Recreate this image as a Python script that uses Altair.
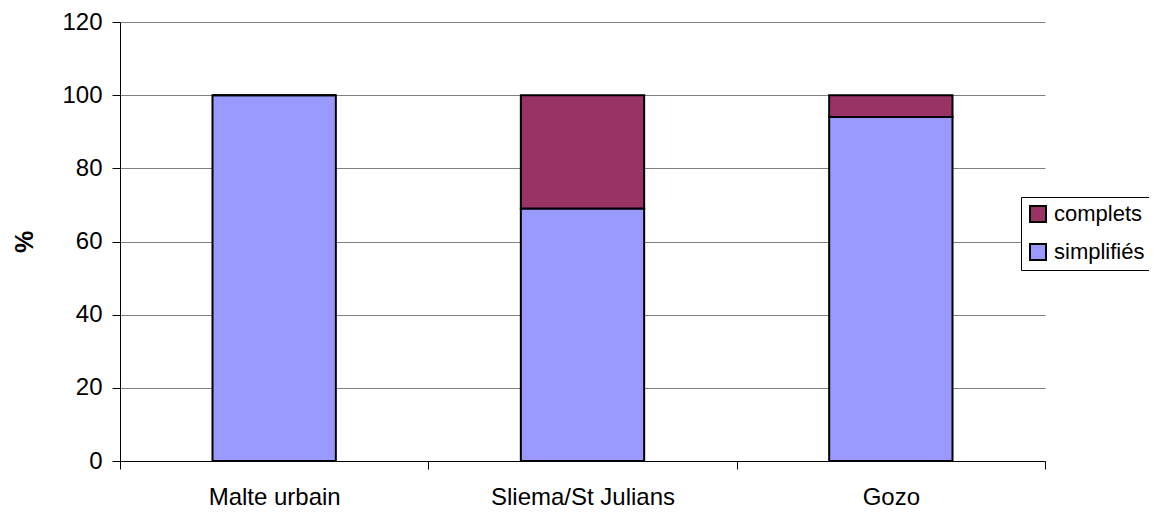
import altair as alt
import pandas as pd

categories = ["Malte urbain", "Sliema/St Julians", "Gozo"]
simplifies = [100, 69, 94]
complets = [0, 31, 6]
series = ["complets", "simplifiés"]
colors = ["#993366", "#9999FF"]

rows = []
for c, s, k in zip(categories, simplifies, complets):
    rows.append({"cat": c, "serie": "simplifiés", "val": s, "ord": 0})
    rows.append({"cat": c, "serie": "complets", "val": k, "ord": 1})
df = pd.DataFrame(rows)

font = "Liberation Sans"

chart = alt.Chart(df).mark_bar(stroke="black", strokeWidth=2,
                               width=alt.RelativeBandSize(0.4)).encode(
    x=alt.X("cat:N", sort=categories, title=None,
            scale=alt.Scale(paddingInner=0, paddingOuter=0),
            axis=alt.Axis(labelAngle=0, labelFontSize=24, labelFont=font, labelColor="black",
                          labelLimit=0,
                          tickBand="extent", tickSize=8, tickColor="black", domainColor="black",
                          labelPadding=16, grid=False)),
    y=alt.Y("val:Q", stack="zero", title="%",
            scale=alt.Scale(domain=[0, 120], nice=False),
            axis=alt.Axis(values=[0, 20, 40, 60, 80, 100, 120], labelFontSize=24, labelFont=font,
                          labelColor="black", tickSize=8, tickColor="black", domainColor="black",
                          gridColor="#808080", labelPadding=10,
                          titleFont=font, titleFontSize=25, titleFontWeight="bold",
                          titleColor="black", titlePadding=24)),
    color=alt.Color("serie:N", scale=alt.Scale(domain=series, range=colors),
                    legend=alt.Legend(title=None, orient="none", legendX=901, legendY=175,
                                      symbolType="square", symbolSize=256, symbolStrokeColor="black",
                                      symbolStrokeWidth=2, labelFont=font, labelFontSize=22,
                                      labelColor="black", strokeColor="black", fillColor="white",
                                      padding=6, rowPadding=14, labelOffset=5, labelLimit=0)),
    order=alt.Order("ord:Q"),
).properties(
    width=925, height=439,
    autosize=alt.AutoSizeParams(type="none"),
    padding={"left": 112, "top": 14, "right": 104, "bottom": 48},
).configure_view(stroke=None)

chart.save("out.html", embed_options={"renderer": "svg", "actions": False})
